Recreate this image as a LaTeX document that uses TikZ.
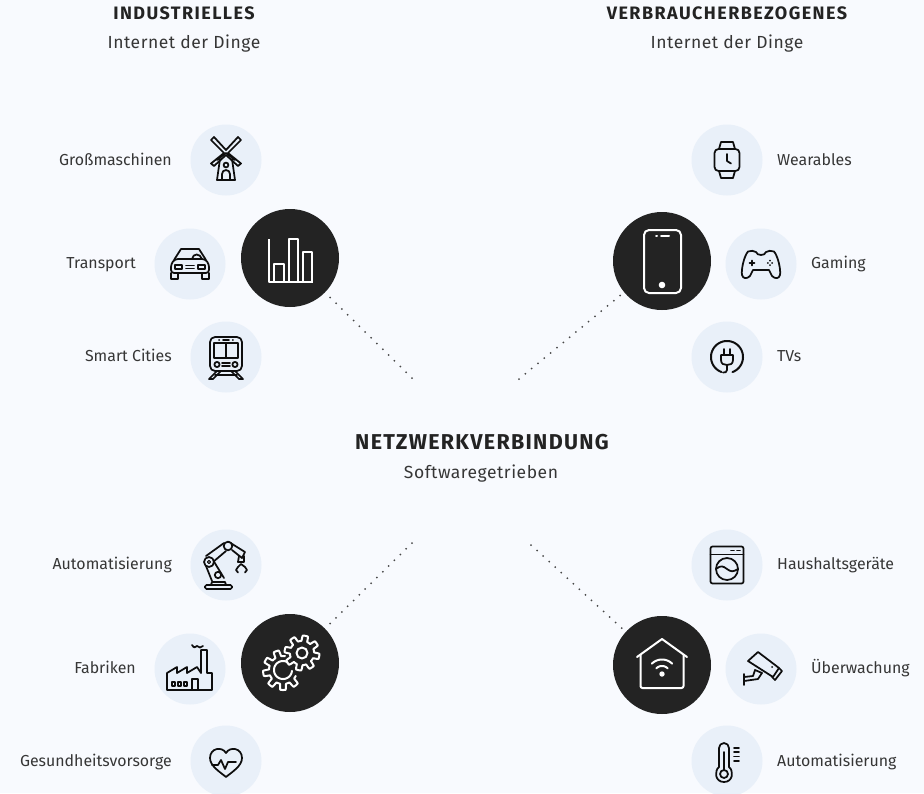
\documentclass[tikz,border=0pt]{standalone}
\usepackage{fontspec}
\setmainfont{Fira Sans}
\definecolor{bgc}{HTML}{F8FAFE}
\definecolor{softc}{HTML}{E9F0F9}
\definecolor{darkc}{HTML}{232323}
\definecolor{inkc}{HTML}{0E0E0E}
\definecolor{textc}{HTML}{363636}
\definecolor{dotc}{HTML}{484848}
\tikzset{
 x=1pt,y=-1pt,
 softdisc/.style={circle,fill=softc,draw=none,minimum size=71pt,inner sep=0pt},
 darkdisc/.style={circle,fill=darkc,draw=none,minimum size=98pt,inner sep=0pt},
 lineicon/.style={draw=inkc,line width=1.75pt,line join=round,line cap=round},
 whiteicon/.style={draw=white,line width=2pt,line join=round,line cap=round},
 lab/.style={font=\fontsize{15.9}{18}\selectfont,text=textc,inner sep=0pt},
 titlelab/.style={font=\fontsize{18}{20}\selectfont\bfseries\addfontfeature{LetterSpace=8},text=darkc,inner sep=0pt,anchor=base},
 maintitle/.style={font=\fontsize{21.5}{24}\selectfont\bfseries\addfontfeature{LetterSpace=6},text=darkc,inner sep=0pt,anchor=base},
 sublab/.style={font=\fontsize{17.5}{20}\selectfont\addfontfeature{LetterSpace=3},text=textc,inner sep=0pt,anchor=base},
 dotline/.style={draw=dotc,line width=2pt,line cap=round,dash pattern=on 0pt off 8.2pt},
 pics/windmill/.style={code={
  \begin{scope}[lineicon]
   \draw (-12,-23)--(-15,-20)--(-2,-7)--(-15,3.5)--(-12,6)--(0,-5)--(12,6)--(15,3.5)--(2,-7)--(15,-20)--(12,-23)--(0,-10)--cycle;
   \draw (-6,-1)--(-9,20)--(9,20)--(6,-1);
   \draw (-9,0)--(0,-7)--(9,0);
   \draw (0,5) circle (2.4);
   \draw (-4,20)--(-4,14) arc (180:360:4)--(4,20);
  \end{scope}}},
 pics/carfront/.style={code={
  \begin{scope}[lineicon]
   \draw (-16,-4)--(-9,-15)--(9,-15)--(16,-4);
   \draw[rounded corners=3pt] (-15,-5)--(15,-5)--(19,0)--(19,9)--(-19,9)--(-19,0)--cycle;
   \draw (-19,9)--(-19,15)--(-12,15)--(-12,9);
   \draw (19,9)--(19,15)--(12,15)--(12,9);
   \draw (-15,1) rectangle (-8,5);
   \draw (15,1) rectangle (8,5);
   \draw (-4,1.5)--(4,1.5) (-4,4.5)--(4,4.5);
   \draw (2,-5) .. controls (3,-11) and (10,-11) .. (12,-5);
  \end{scope}}},
 pics/trainfront/.style={code={
  \begin{scope}[lineicon]
   \draw[rounded corners=5pt] (-16,-20) rectangle (16,14);
   \draw (-12,-14) rectangle (12,1);
   \draw (0,-14)--(0,1);
   \draw (-3,-17.3)--(3,-17.3) (-7,-17.3)--(-6.8,-17.3) (7,-17.3)--(6.8,-17.3);
   \draw (-9,7.5) circle (2.6) (9,7.5) circle (2.6);
   \draw (-4,6.2)--(4,6.2) (-4,8.8)--(4,8.8);
   \draw (-9,14)--(-17,22)--(-13,22)--(-5,14);
   \draw (9,14)--(17,22)--(13,22)--(5,14);
   \draw (-11,18)--(11,18);
  \end{scope}}},
 pics/barsicon/.style={code={
  \begin{scope}[whiteicon,line cap=butt]
   \draw (-21,-19)--(-21,24)--(23,24);
   \draw (-16,24)--(-16,6)--(-6,6)--(-6,24);
   \draw (-1,24)--(-1,-19)--(8,-19)--(8,24);
   \draw (13,24)--(13,-6)--(22,-6)--(22,24);
  \end{scope}}},
 pics/phoneicon/.style={code={
  \begin{scope}[whiteicon]
   \draw[rounded corners=5pt] (-18,-31) rectangle (19,32);
   \draw (-6,-25)--(-5,-25) (-1,-25)--(7,-25);
   \fill[white] (0,24) circle (3.3);
  \end{scope}}},
 pics/watchicon/.style={code={
  \begin{scope}[lineicon]
   \draw[rounded corners=4pt] (-12.5,-11) rectangle (12.5,11);
   \draw (-8,-11)--(-6,-18)--(6,-18)--(8,-11);
   \draw (-8,11)--(-6,18)--(6,18)--(8,11);
   \draw (0,-6)--(0,1)--(4,3.5);
  \end{scope}}},
 pics/padicon/.style={code={
  \begin{scope}[lineicon]
   \draw (-13,-12.5) .. controls (-10,-13.5) and (-7,-13.5) .. (-5,-12) .. controls (-4,-8) and (4,-8) .. (5,-12)
     .. controls (7,-13.5) and (10,-13.5) .. (13,-12.5)
     .. controls (17,-8) and (20,6) .. (19,11) .. controls (18,15) and (14,15) .. (11,12)
     -- (8,6) -- (-8,6) -- (-11,12) .. controls (-14,15) and (-18,15) .. (-19,11)
     .. controls (-20,6) and (-17,-8) .. (-13,-12.5) -- cycle;
   \draw (-9,-3.5)--(-9,1.5) (-11.5,-1)--(-6.5,-1);
   \draw (9,-3.5)--(9,-3.3) (9,1)--(9,1.2) (6.8,-1)--(7,-1) (11,-1)--(11.2,-1);
  \end{scope}}},
 pics/plugicon/.style={code={
  \begin{scope}[lineicon]
   \draw[line width=2pt] plot[domain=-250:70,samples=80] (\x:16);
   \draw (-6,-2)--(6,-2)--(6,3) .. controls (6,7) and (3,8) .. (0,8) .. controls (-3,8) and (-6,7) .. (-6,3)--cycle;
   \draw (-3,-8)--(-3,-2) (3,-8)--(3,-2);
   \draw (0,8)--(0,13) .. controls (0,15) and (-2,16) .. (-4,15.5);
  \end{scope}}},
 pics/roboticon/.style={code={
  \begin{scope}[lineicon]
   \draw[rounded corners=1.5pt] (-21,24)--(-21,20)--(6,20)--(6,24)--cycle;
   \draw (-15,20)--(-14,17)--(-1,17)--(0,20);
   \draw (-20,1)--(-14,16) (-13,-5)--(-2,13);
   \draw (-20,-9)--(-2,-22) (-13,-3)--(0,-14);
   \draw (3,-23)--(19,-13)--(16,-7)--(6,-15);
   \draw (13,-9)--(12,-3)--(18,-3)--(18,-9);
   \draw (12,2)--(10,5)--(12,7.5);
   \draw (19,2)--(21,5)--(19,7.5);
   \draw (12,2)--(15,-1)--(19,2);
   \draw[fill=softc] (-17,-3) circle (5);
   \draw[fill=softc] (-8,10) circle (3.2);
   \draw[fill=softc] (2,-19) circle (4.3);
   \draw[line width=1.1pt] (-17,-3) circle (1.6);
  \end{scope}}},
 pics/factoryicon/.style={code={
  \begin{scope}[lineicon]
   \draw (-23,21)--(-23,4)--(-13,-2)--(-13,4)--(-3,-2)--(-3,4)--(7,-2)--(11,4)--(11,-19)--(17,-19)--(17,4)--(22,4)--(22,21)--cycle;
   \draw (2,21)--(2,10)--(8,10)--(8,21);
   \draw (-18,13) rectangle (-15,17) (-12,13) rectangle (-9,17) (-6,13) rectangle (-3,17);
   \draw (2,-24) .. controls (4,-21) and (5,-21) .. (7,-23) .. controls (9,-21) and (11,-21) .. (13,-23);
  \end{scope}}},
 pics/gearsicon/.style={code={
  \begin{scope}[whiteicon]
   \draw[shift={(12,-10)}] plot[domain=0:360,samples=241] (\x:{14.8+2.7*max(-1,min(1,3*sin(8*\x)))}) -- cycle;
   \draw[shift={(12,-10)}] (0,0) circle (5.5);
   \draw[shift={(-7,7)}] plot[domain=25:278,samples=181] (\x:{17+3*max(-1,min(1,3*sin(9*\x)))});
   \draw[shift={(-7,7)}] plot[domain=5:300,samples=80] (\x:9);
  \end{scope}}},
 pics/hearticon/.style={code={
  \begin{scope}[lineicon]
   \draw (0,16) .. controls (-6,11) and (-16,5) .. (-16,-3) .. controls (-16,-13) and (-4,-15) .. (0,-8)
     .. controls (4,-15) and (16,-13) .. (16,-3) .. controls (16,5) and (6,11) .. (0,16) -- cycle;
   \draw (-14,4)--(-8,4)--(-5,-1)--(-1,8)--(2,1)--(10,1);
  \end{scope}}},
 pics/thermoicon/.style={code={
  \begin{scope}[lineicon]
   \draw (-8,6)--(-8,-13) arc (180:360:5)--(2,6) .. controls (7,10) and (6,21) .. (-3,21)
      .. controls (-12,21) and (-13,10) .. (-8,6) -- cycle;
   \draw (-3,13) circle (4);
   \draw (-3,9)--(-3,-9);
   \draw (7,-13)--(12,-13) (7,-9)--(12,-9) (7,-4.5)--(12,-4.5) (7,0)--(12,0);
  \end{scope}}},
 pics/washericon/.style={code={
  \begin{scope}[lineicon]
   \draw[rounded corners=2pt] (-16.5,-18.5) rectangle (16.5,18.5);
   \draw (-16.5,-10.5)--(16.5,-10.5);
   \draw (4,-14.5)--(7,-14.5) (10,-14.5)--(13,-14.5);
   \draw (0,4) circle (11);
   \draw (-11,4) .. controls (-6,0) and (-4,1) .. (0,4) .. controls (4,7) and (6,7) .. (11,4);
  \end{scope}}},
 pics/cameraicon/.style={code={
  \begin{scope}[lineicon]
   \draw (-3,-17)--(18,-1)--(12,8)--(-13,-8)--cycle;
   \draw (18,-1)--(21,2)--(14,11)--(11,8);
   \draw (-17,5)--(-17,16);
   \draw (-17,8)--(-8,7)--(-6,1)--(1,4)--(-3,10)--(-17,12);
   \draw (11,-2)--(11.2,-2);
  \end{scope}}},
 pics/homeicon/.style={code={
  \begin{scope}[whiteicon]
   \draw (-25,-8)--(0,-26)--(25,-8);
   \draw[rounded corners=2pt] (-21.5,-10)--(-21.5,23)--(21.5,23)--(21.5,-10);
   \fill[white] (0,9) circle (2.7);
   \draw[shift={(0,9)}] plot[domain=-135:-45,samples=20] (\x:8);
   \draw[shift={(0,9)}] plot[domain=-135:-45,samples=20] (\x:14.5);
  \end{scope}}},
}
\begin{document}
\begin{tikzpicture}
\path[fill=bgc,use as bounding box] (0,0) rectangle (924,793);
% hub discs
\node[darkdisc] (hubTL) at (290,258) {};
\node[darkdisc] (hubTR) at (662,261) {};
\node[darkdisc] (hubBL) at (290,663) {};
\node[darkdisc] (hubBR) at (662,665) {};
% dotted connectors
\coordinate (endTL) at (412,378);
\coordinate (endTR) at (519,379);
\coordinate (endBL) at (412,543);
\coordinate (endBR) at (531,545);
\draw[dotline] (endTL) -- (hubTL);
\draw[dotline] (endTR) -- (hubTR);
\draw[dotline] (endBL) -- (hubBL);
\draw[dotline] (endBR) -- (hubBR);
% soft discs
\node[softdisc] (mill) at (226,160) {};
\node[softdisc] (car) at (190,264) {};
\node[softdisc] (train) at (226,357) {};
\node[softdisc] (watch) at (727,160) {};
\node[softdisc] (pad) at (761,264) {};
\node[softdisc] (plug) at (727,357) {};
\node[softdisc] (robot) at (226,565) {};
\node[softdisc] (factory) at (190,669) {};
\node[softdisc] (heart) at (226,761) {};
\node[softdisc] (washer) at (727,565) {};
\node[softdisc] (camera) at (761,669) {};
\node[softdisc] (thermo) at (727,761) {};
% icons
\pic at (mill) {windmill};
\pic at (car) {carfront};
\pic at (train) {trainfront};
\pic at (hubTL) {barsicon};
\pic at (hubTR) {phoneicon};
\pic at (watch) {watchicon};
\pic at (pad) {padicon};
\pic at (plug) {plugicon};
\pic at (robot) {roboticon};
\pic at (factory) {factoryicon};
\pic at (heart) {hearticon};
\pic at (hubBL) {gearsicon};
\pic at (washer) {washericon};
\pic at (camera) {cameraicon};
\pic at (thermo) {thermoicon};
\pic at (hubBR) {homeicon};
% titles
\node[titlelab] (t1) at (184,19) {INDUSTRIELLES};
\node[sublab] (s1) at (184,48) {Internet der Dinge};
\node[titlelab] (t2) at (727,19) {VERBRAUCHERBEZOGENES};
\node[sublab] (s2) at (727,48) {Internet der Dinge};
\node[maintitle] (t3) at (482,449) {NETZWERKVERBINDUNG};
\node[sublab] (s3) at (481,478) {Softwaregetrieben};
% labels
\node[lab,anchor=base east] (l1) at (172,165) {Großmaschinen};
\node[lab,anchor=base east] (l2) at (136,268) {Transport};
\node[lab,anchor=base east] (l3) at (172,361) {Smart Cities};
\node[lab,anchor=base east] (l4) at (172,569) {Automatisierung};
\node[lab,anchor=base east] (l5) at (136,673) {Fabriken};
\node[lab,anchor=base east] (l6) at (172,766) {Gesundheitsvorsorge};
\node[lab,anchor=base west] (r1) at (777,165) {Wearables};
\node[lab,anchor=base west] (r2) at (811,268) {Gaming};
\node[lab,anchor=base west] (r3) at (777,361) {TVs};
\node[lab,anchor=base west] (r4) at (777,569) {Haushaltsgeräte};
\node[lab,anchor=base west] (r5) at (811,673) {Überwachung};
\node[lab,anchor=base west] (r6) at (777,766) {Automatisierung};
\end{tikzpicture}
\end{document}
